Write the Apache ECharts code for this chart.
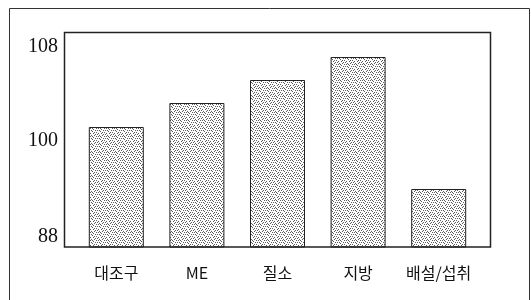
<!DOCTYPE html>
<html>
<head>
<meta charset="utf-8">
<script src="https://cdn.jsdelivr.net/npm/echarts@6/dist/echarts.min.js"></script>
<style>
  html, body { margin: 0; padding: 0; background: #fff; }
  #chart { width: 531px; height: 300px; }
</style>
</head>
<body>
<div id="chart"></div>
<script>
// 처리구
var categories = ["대조구", "ME", "질소", "지방", "배설/섭취"];
// 대조구 = 100 기준 상대값
var values = [100, 102.4, 104.7, 107.0, 93.8];
// y축에 표시되는 눈금
var yTickLabels = [88, 100, 108];

// 점묘 무늬 (stipple)
function makePattern() {
  var c = document.createElement("canvas");
  c.width = 8;
  c.height = 8;
  var ctx = c.getContext("2d");
  ctx.fillStyle = "#ffffff";
  ctx.fillRect(0, 0, 8, 8);
  ctx.fillStyle = "#5a5a5a";
  var dots = [[0,0],[2,0],[5,1],[1,2],[3,2],[7,2],[4,3],[6,4],[0,4],[2,5],[5,5],[7,6],[1,6],[3,7],[6,7],[4,0]];
  dots.forEach(function (d) { ctx.fillRect(d[0], d[1], 1, 1); });
  return c;
}

var chart = echarts.init(document.getElementById("chart"));
chart.setOption({
  animation: false,
  grid: { left: 76, right: 52, top: 32, bottom: 53 },
  graphic: [
    {
      type: "rect",
      shape: { x: 9.5, y: 8.5, width: 520, height: 300 },
      style: { fill: "none", stroke: "#333", lineWidth: 1 },
      z: -1
    },
    {
      type: "rect",
      shape: { x: 64.5, y: 32.5, width: 426, height: 214.5 },
      style: { fill: "none", stroke: "#222", lineWidth: 1.5 },
      z: 10
    }
  ],
  xAxis: {
    type: "category",
    data: categories,
    axisLine: { show: false },
    axisTick: { show: false },
    axisLabel: {
      interval: 0,
      hideOverlap: false,
      margin: 18,
      fontSize: 16,
      color: "#111",
      fontFamily: "Noto Sans CJK KR"
    }
  },
  yAxis: {
    type: "value",
    min: 88,
    max: 109.5,
    interval: 4,
    splitLine: { show: false },
    axisLine: { show: false },
    axisTick: { show: false },
    axisLabel: {
      margin: 18,
      fontSize: 20,
      color: "#111",
      fontFamily: "Liberation Serif",
      formatter: function (v) {
        if (yTickLabels.indexOf(v) < 0) return "";
        if (v === 100) return "{down|" + v + "}";
        if (v === 88) return "{low|" + v + "}";
        return "{n|" + v + "}";
      },
      rich: {
        n: { fontSize: 20, fontFamily: "Liberation Serif", color: "#111" },
        down: { fontSize: 20, fontFamily: "Liberation Serif", color: "#111", padding: [28, 0, 0, 0] },
        low: { fontSize: 20, fontFamily: "Liberation Serif", color: "#111", padding: [0, 0, 20, 0] }
      }
    }
  },
  series: [
    {
      type: "bar",
      data: values,
      barWidth: 55,
      itemStyle: {
        color: { image: makePattern(), repeat: "repeat" },
        borderColor: "#222",
        borderWidth: 1
      }
    }
  ]
});
</script>
</body>
</html>
